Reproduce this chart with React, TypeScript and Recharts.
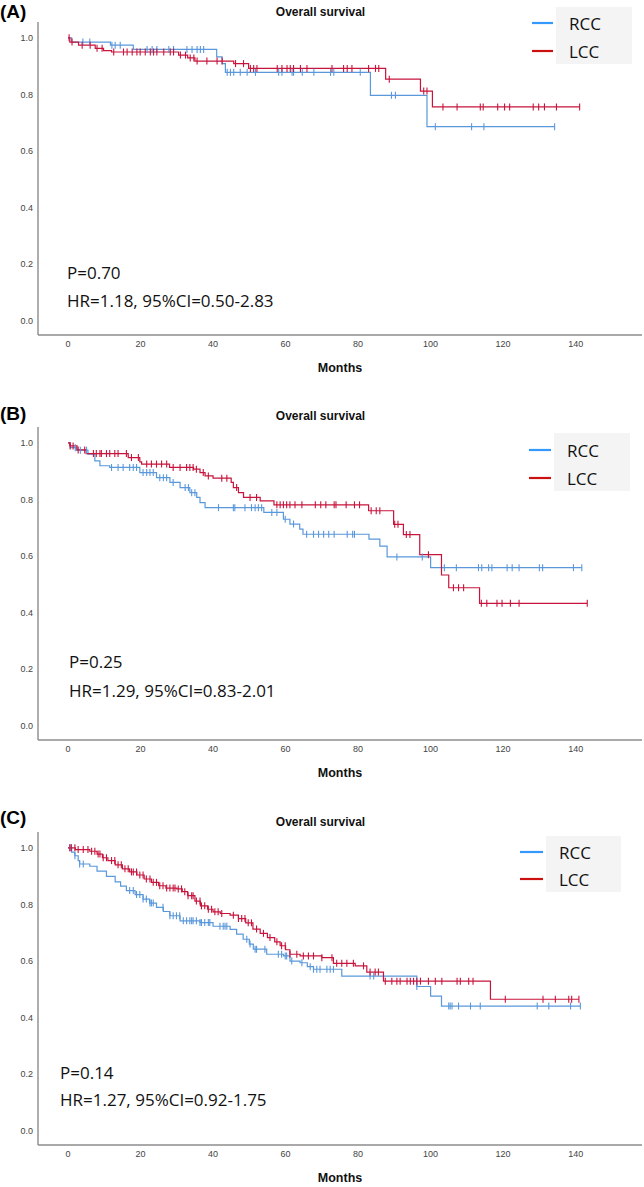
import React from 'react';
import { ComposedChart, Line, Scatter, XAxis, YAxis } from 'recharts';

// ---------- tick labels ----------
const X_TICKS = [0, 20, 40, 60, 80, 100, 120, 140];
const Y_TICKS = [0, 0.2, 0.4, 0.6, 0.8, 1.0];
const SERIES_NAMES = ['RCC', 'LCC'];

// ---------- Panel A ----------
const A_RCC_T = [0, 1, 11.7, 18, 41, 42.5, 43.4, 83.4, 99];
const A_RCC_S = [1, 0.985, 0.974, 0.959, 0.933, 0.909, 0.878, 0.797, 0.686];
const A_RCC_CENS = [4.1, 6.0, 12.1, 13.0, 14.4, 21.8, 23.2, 24.5, 27.8, 29.1, 32.8, 34.2, 35.6, 36.5, 37.4, 43.9, 44.8, 45.7, 47.5, 49.4, 51.7, 58.1, 59.0, 61.8, 62.2, 64.6, 67.8, 72.4, 73.3, 80.6, 89.2, 90.3, 101.3, 111.3, 114.7, 134.2];
const A_LCC_T = [0, 0.5, 2.9, 7.5, 9.8, 12, 30.5, 33, 35, 45.7, 49.8, 87.6, 97.2, 100.5];
const A_LCC_S = [1, 0.985, 0.974, 0.963, 0.955, 0.95, 0.939, 0.929, 0.918, 0.909, 0.892, 0.854, 0.812, 0.756];
const A_LCC_CENS = [0.3, 1.1, 3.9, 6.1, 8.0, 9.4, 12.6, 15.3, 16.3, 17.7, 19.0, 19.9, 21.3, 22.7, 23.6, 24.5, 26.4, 28.2, 29.1, 31.0, 32.4, 33.7, 34.7, 35.6, 38.3, 41.1, 42.5, 46.2, 48.4, 50.3, 51.2, 52.1, 57.7, 59.0, 60.4, 61.3, 62.2, 64.1, 65.9, 72.8, 76.0, 77.0, 78.3, 82.9, 84.8, 85.7, 88.6, 98.1, 99.0, 103.4, 107.3, 113.7, 114.5, 118.5, 120.4, 121.8, 128.3, 129.8, 131.4, 134.7, 141.1];
const A_P = 'P=0.70';
const A_HR = 'HR=1.18, 95%CI=0.50-2.83';

// ---------- Panel B ----------
const B_RCC_T = [0, 0.6, 2.3, 5.5, 7.4, 8.8, 11.5, 19.8, 24.4, 28.1, 30.9, 33.6, 35.5, 36.4, 37.8, 54, 59.4, 61.2, 63.9, 64.8, 83, 86, 88, 100];
const B_RCC_S = [1, 0.983, 0.974, 0.96, 0.936, 0.919, 0.913, 0.895, 0.877, 0.86, 0.842, 0.824, 0.807, 0.789, 0.771, 0.754, 0.73, 0.713, 0.695, 0.677, 0.66, 0.635, 0.597, 0.559];
const B_RCC_CENS = [2.0, 3.4, 5.1, 12.0, 13.8, 15.2, 17.0, 18.0, 18.9, 20.7, 21.7, 22.6, 23.5, 25.3, 26.3, 27.2, 29.0, 32.3, 33.2, 34.1, 35.0, 41.5, 45.6, 46.0, 48.8, 50.6, 51.6, 52.5, 53.4, 56.2, 57.6, 59.9, 62.2, 65.8, 67.7, 69.1, 70.5, 71.9, 73.4, 77.0, 78.5, 79.0, 90.7, 97.7, 103.8, 107.1, 113.2, 114.1, 116.0, 116.9, 121.1, 122.5, 124.4, 130.0, 130.9, 139.4, 141.7];
const B_LCC_T = [0, 0.5, 2.5, 5, 16.6, 19.8, 20.3, 28, 34.6, 36.4, 37.8, 40, 45, 45.6, 47, 48.4, 53, 56.8, 82.9, 89.8, 92.5, 97, 103, 105, 113.5];
const B_LCC_S = [1, 0.989, 0.975, 0.962, 0.948, 0.933, 0.925, 0.913, 0.907, 0.895, 0.883, 0.875, 0.86, 0.842, 0.824, 0.807, 0.795, 0.781, 0.76, 0.712, 0.676, 0.605, 0.533, 0.488, 0.433];
const B_LCC_CENS = [0.6, 1.4, 2.8, 4.6, 7.0, 7.8, 8.8, 9.2, 10.6, 11.5, 12.9, 13.8, 16.1, 17.5, 19.4, 21.7, 23.0, 24.4, 25.8, 27.2, 29.0, 30.9, 32.7, 33.6, 34.5, 35.4, 37.3, 38.7, 42.4, 43.8, 46.5, 50.2, 52.0, 57.6, 58.5, 59.4, 60.3, 61.2, 62.6, 64.5, 68.2, 69.7, 71.1, 73.4, 73.9, 76.7, 79.0, 80.4, 83.6, 85.0, 86.0, 90.1, 91.0, 93.3, 94.3, 99.4, 106.3, 107.7, 109.1, 114.0, 115.5, 118.3, 119.7, 122.0, 124.4, 143.2];
const B_P = 'P=0.25';
const B_HR = 'HR=1.29, 95%CI=0.83-2.01';

// ---------- Panel C ----------
const C_RCC_T = [0, 1, 1.9, 2.8, 3.2, 6, 8, 10.6, 13, 14.5, 16.1, 18.5, 20.7, 22.5, 24.4, 26.3, 28.1, 30.9, 36.4, 40, 44.7, 46.5, 48.3, 50, 51.1, 54.8, 59.4, 61.2, 64, 66, 67.7, 75.5, 96.2, 100, 103];
const C_RCC_S = [1, 0.985, 0.972, 0.955, 0.943, 0.935, 0.918, 0.899, 0.88, 0.865, 0.849, 0.835, 0.819, 0.805, 0.79, 0.775, 0.76, 0.742, 0.736, 0.723, 0.712, 0.695, 0.677, 0.66, 0.642, 0.624, 0.618, 0.6, 0.594, 0.58, 0.571, 0.547, 0.51, 0.476, 0.441];
const C_RCC_CENS = [0.5, 0.9, 1.9, 3.2, 4.2, 17.0, 18.0, 18.9, 19.8, 20.7, 21.6, 22.6, 23.0, 23.5, 26.2, 28.1, 29.0, 29.9, 30.8, 31.8, 32.7, 33.6, 34.1, 34.5, 35.4, 36.4, 36.8, 37.7, 38.7, 39.1, 41.9, 42.8, 43.3, 43.8, 49.3, 50.2, 51.6, 52.0, 54.3, 58.0, 58.9, 59.9, 60.3, 61.7, 64.5, 66.8, 67.7, 68.6, 69.5, 71.4, 72.3, 73.2, 83.3, 84.3, 96.2, 105.0, 105.4, 105.9, 107.7, 111.0, 113.7, 129.4, 132.6, 138.6, 141.3];
const C_LCC_T = [0, 2, 6, 8, 9.5, 11, 13, 15, 17, 19, 21, 23, 25, 27, 30, 31.5, 33, 35, 36.5, 38.5, 40, 42, 44.7, 47, 49, 51, 53, 55, 57, 58.5, 60, 61.2, 64, 70, 73.2, 79.2, 82.4, 87, 116.5];
const C_LCC_S = [1, 0.994, 0.988, 0.978, 0.965, 0.955, 0.94, 0.926, 0.915, 0.904, 0.89, 0.878, 0.866, 0.858, 0.855, 0.845, 0.831, 0.812, 0.795, 0.783, 0.774, 0.768, 0.762, 0.75, 0.735, 0.713, 0.698, 0.683, 0.668, 0.654, 0.64, 0.624, 0.618, 0.612, 0.592, 0.583, 0.561, 0.529, 0.465];
const C_LCC_CENS = [0.5, 0.9, 1.9, 2.8, 4.2, 5.5, 6.5, 7.4, 8.3, 8.8, 9.7, 10.6, 12.0, 12.9, 13.8, 14.7, 15.7, 16.6, 17.5, 18.0, 18.9, 19.8, 20.7, 21.6, 22.6, 23.5, 24.4, 25.3, 26.2, 27.2, 28.1, 29.0, 29.5, 30.4, 31.3, 32.2, 33.1, 34.1, 34.5, 35.4, 36.4, 36.8, 37.7, 38.7, 39.6, 40.5, 41.4, 42.4, 45.6, 47.0, 47.9, 48.8, 49.7, 50.6, 52.0, 53.9, 55.7, 57.6, 58.9, 59.9, 61.2, 63.1, 64.9, 66.3, 67.7, 70.0, 72.8, 74.1, 75.5, 76.9, 78.7, 81.5, 83.3, 84.7, 85.6, 87.5, 89.3, 90.7, 91.6, 93.5, 94.4, 95.3, 96.2, 97.2, 99.4, 101.3, 103.1, 107.3, 108.2, 110.5, 111.7, 120.6, 131.0, 134.4, 138.1, 138.9, 140.9];
const C_P = 'P=0.14';
const C_HR = 'HR=1.27, 95%CI=0.92-1.75';

// ---------- styling ----------
const BLUE = '#5a98dc';
const RED = '#c8143c';
const LEG_BLUE = '#3399ff';
const LEG_RED = '#cc1010';
const AXIS_GRAY = '#8c8c8c';
const SANS = '"Liberation Sans", Arial, sans-serif';
const CAL = '"Open Sans", "Noto Sans", sans-serif';
const PAD = 12; // overlay svg extends this far above each panel

function survAt(ts: number[], ss: number[], x: number) {
  let v = ss[0];
  for (let i = 0; i < ts.length; i++) if (ts[i] <= x) v = ss[i];
  return v;
}
function curve(ts: number[], ss: number[], cens: number[]) {
  const pts = ts.map((t, i) => ({ t, s: ss[i] }));
  const end = Math.max(...cens, ts[ts.length - 1]);
  pts.push({ t: end, s: survAt(ts, ss, end) });
  return pts;
}
function marks(ts: number[], ss: number[], cens: number[]) {
  return cens.map((c) => ({ t: c, s: survAt(ts, ss, c) }));
}
const censorShape = (color: string) => (props: any) => {
  const { cx, cy } = props;
  if (cx == null || cy == null) return <g />;
  return <line x1={cx} x2={cx} y1={cy - 3.5} y2={cy + 3.5} stroke={color} strokeWidth={1.1} />;
};

type PanelCfg = {
  label: string;
  top: number;
  rt: number[]; rs: number[]; rc: number[];
  lt: number[]; ls: number[]; lc: number[];
  p: string; hr: string;
  pY: number; hrY: number; textX: number;
  leg: { x0: number; x1: number; y0: number; y1: number; lx0: number; lx1: number; ly1: number; ly2: number };
  titleY: number; labelY: number;
};

const PANELS: PanelCfg[] = [
  { label: '(A)', top: 0, rt: A_RCC_T, rs: A_RCC_S, rc: A_RCC_CENS, lt: A_LCC_T, ls: A_LCC_S, lc: A_LCC_CENS, p: A_P, hr: A_HR, pY: 272, hrY: 300, textX: 67,
    leg: { x0: 556, x1: 632, y0: 7, y1: 64, lx0: 532, lx1: 553, ly1: 23, ly2: 51 }, titleY: 12, labelY: 11 },
  { label: '(B)', top: 405, rt: B_RCC_T, rs: B_RCC_S, rc: B_RCC_CENS, lt: B_LCC_T, ls: B_LCC_S, lc: B_LCC_CENS, p: B_P, hr: B_HR, pY: 256, hrY: 285, textX: 69,
    leg: { x0: 554, x1: 630, y0: 28, y1: 86, lx0: 529, lx1: 551, ly1: 45, ly2: 73 }, titleY: 11, labelY: 8 },
  { label: '(C)', top: 810, rt: C_RCC_T, rs: C_RCC_S, rc: C_RCC_CENS, lt: C_LCC_T, ls: C_LCC_S, lc: C_LCC_CENS, p: C_P, hr: C_HR, pY: 262, hrY: 289, textX: 60,
    leg: { x0: 546, x1: 621, y0: 26, y1: 82, lx0: 520, lx1: 543, ly1: 42, ly2: 69 }, titleY: 12, labelY: 7 },
];

function Panel({ cfg }: { cfg: PanelCfg }) {
  const rCurve = curve(cfg.rt, cfg.rs, cfg.rc);
  const lCurve = curve(cfg.lt, cfg.ls, cfg.lc);
  const rMarks = marks(cfg.rt, cfg.rs, cfg.rc);
  const lMarks = marks(cfg.lt, cfg.ls, cfg.lc);
  const L = cfg.leg;
  return (
    <div style={{ position: 'absolute', left: 0, top: cfg.top, width: 644, height: 405 }}>
      <ComposedChart width={644} height={365} margin={{ top: 22, right: 2, bottom: 0, left: 0 }}>
        <XAxis
          type="number"
          dataKey="t"
          domain={[-8.28, 158.3]}
          ticks={X_TICKS}
          allowDataOverflow
          tickLine={false}
          tickSize={0}
          tickMargin={6}
          height={30}
          axisLine={{ stroke: AXIS_GRAY, strokeWidth: 1.4 }}
          tick={{ fill: '#444', fontSize: 9, fontFamily: SANS }}
        />
        <YAxis
          type="number"
          dataKey="s"
          domain={[-0.05, 1.056]}
          ticks={Y_TICKS}
          allowDataOverflow
          tickLine={false}
          tickSize={0}
          tickMargin={5}
          width={38}
          axisLine={{ stroke: AXIS_GRAY, strokeWidth: 1.4 }}
          tick={{ fill: '#444', fontSize: 9, fontFamily: SANS }}
          tickFormatter={(v: number) => v.toFixed(1)}
        />
        <Line data={rCurve} dataKey="s" type="stepAfter" stroke={BLUE} strokeWidth={1.2} dot={false} activeDot={false} isAnimationActive={false} />
        <Line data={lCurve} dataKey="s" type="stepAfter" stroke={RED} strokeWidth={1.2} dot={false} activeDot={false} isAnimationActive={false} />
        <Scatter data={rMarks} dataKey="s" shape={censorShape(BLUE)} isAnimationActive={false} />
        <Scatter data={lMarks} dataKey="s" shape={censorShape(RED)} isAnimationActive={false} />
      </ComposedChart>
      <svg width={644} height={405 + PAD} style={{ position: 'absolute', left: 0, top: -PAD, pointerEvents: 'none', overflow: 'visible' }}>
        <g transform={`translate(0, ${PAD})`}>
          <text x={0} y={cfg.labelY} dominantBaseline="central" fontFamily={SANS} fontWeight="bold" fontSize={19} fill="#000">{cfg.label}</text>
          <text x={320.5} y={cfg.titleY} dominantBaseline="central" textAnchor="middle" fontFamily={SANS} fontWeight="bold" fontSize={12} fill="#111">Overall survival</text>
          <text x={340} y={368} dominantBaseline="central" textAnchor="middle" fontFamily={SANS} fontWeight="bold" fontSize={12.5} fill="#111">Months</text>
          <text x={cfg.textX} y={cfg.pY} dominantBaseline="central" fontFamily={CAL} fontSize={17} fill="#111">{cfg.p}</text>
          <text x={cfg.textX} y={cfg.hrY} dominantBaseline="central" fontFamily={CAL} fontSize={17} fill="#111">{cfg.hr}</text>
          <rect x={L.x0} y={L.y0} width={L.x1 - L.x0} height={L.y1 - L.y0} fill="#f4f4f4" />
          <line x1={L.lx0} x2={L.lx1} y1={L.ly1} y2={L.ly1} stroke={LEG_BLUE} strokeWidth={2.2} />
          <line x1={L.lx0} x2={L.lx1} y1={L.ly2} y2={L.ly2} stroke={LEG_RED} strokeWidth={2.2} />
          <text x={L.x0 + 13} y={L.ly1} dominantBaseline="central" fontFamily={CAL} fontSize={17} fill="#111">{SERIES_NAMES[0]}</text>
          <text x={L.x0 + 13} y={L.ly2} dominantBaseline="central" fontFamily={CAL} fontSize={17} fill="#111">{SERIES_NAMES[1]}</text>
        </g>
      </svg>
    </div>
  );
}

export default function App() {
  return (
    <div style={{ position: 'absolute', left: 0, top: 0, width: 644, height: 1187, background: '#fff', overflow: 'hidden' }}>
      {PANELS.map((p) => (
        <Panel key={p.label} cfg={p} />
      ))}
    </div>
  );
}
